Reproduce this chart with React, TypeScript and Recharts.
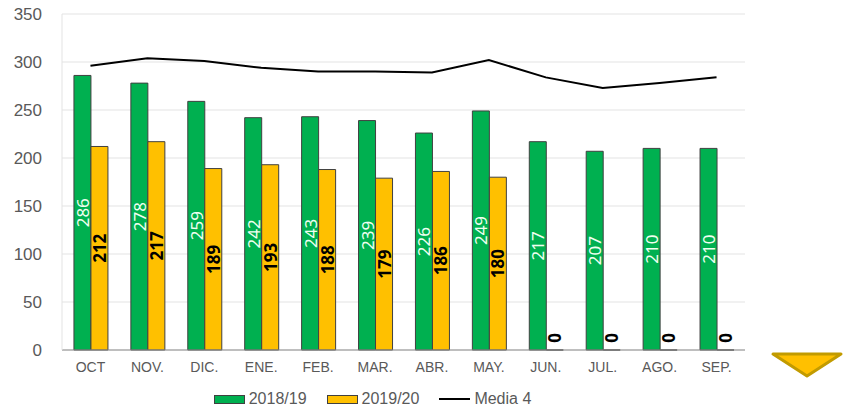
import {
  ComposedChart,
  Bar,
  Line,
  XAxis,
  YAxis,
  CartesianGrid,
  Legend,
  LabelList,
} from "recharts";

const MONTHS = ["OCT", "NOV.", "DIC.", "ENE.", "FEB.", "MAR.", "ABR.", "MAY.", "JUN.", "JUL.", "AGO.", "SEP."];
const S2018 = [286, 278, 259, 242, 243, 239, 226, 249, 217, 207, 210, 210];
const S2019 = [212, 217, 189, 193, 188, 179, 186, 180, 0, 0, 0, 0];
const MEDIA4 = [296, 304, 301, 294, 290, 290, 289, 302, 284, 273, 278, 284];
const Y_TICKS = [0, 50, 100, 150, 200, 250, 300, 350];

const GREEN = "#00B050";
const YELLOW = "#FFC000";
const TEXT = "#595959";

const data = MONTHS.map((m, i) => ({
  name: m,
  a: S2018[i],
  b: S2019[i],
  media: MEDIA4[i],
}));

function makeLabel(color: string, bold: boolean) {
  return (props: any) => {
    const { x, y, width, height, value } = props;
    const cx = Number(x) + Number(width) / 2;
    const isZero = Number(value) === 0;
    const cy = isZero ? Number(y) - 12 : Number(y) + Number(height) / 2;
    return (
      <text
        x={cx}
        y={cy}
        transform={`rotate(-90, ${cx}, ${cy})`}
        textAnchor="middle"
        dominantBaseline="central"
        fill={color}
        fontSize={17}
        fontWeight={bold ? 700 : 400}
        fontFamily="'Noto Sans', sans-serif"
      >
        {String(value)}
      </text>
    );
  };
}

function LegendContent() {
  const items = [
    { label: "2018/19", kind: "rect", color: GREEN },
    { label: "2019/20", kind: "rect", color: YELLOW },
    { label: "Media 4", kind: "line", color: "#000" },
  ];
  return (
    <div style={{ display: "flex", justifyContent: "center", alignItems: "center", gap: 20, marginTop: 5 }}>
      {items.map((it) => (
        <div key={it.label} style={{ display: "flex", alignItems: "center", gap: 4 }}>
          {it.kind === "rect" ? (
            <div style={{ width: 29, height: 7, background: it.color, border: "1px solid #404040" }} />
          ) : (
            <div style={{ width: 31, height: 2, background: it.color }} />
          )}
          <span style={{ fontSize: 16, color: TEXT, fontFamily: "'Liberation Sans', Arial, sans-serif" }}>
            {it.label}
          </span>
        </div>
      ))}
    </div>
  );
}

export default function App() {
  return (
    <div style={{ position: "absolute", left: 0, top: 0, width: 845, height: 411, background: "#fff" }}>
      <ComposedChart
        width={845}
        height={411}
        data={data}
        margin={{ top: 14, right: 100, bottom: 0, left: 0 }}
        barCategoryGap="21%"
        barGap={0}
      >
        <CartesianGrid vertical={false} stroke="#E3E3E3" />
        <XAxis
          dataKey="name"
          height={35}
          tickLine={false}
          axisLine={{ stroke: "#8C8C8C" }}
          tickMargin={6}
          tick={{ fontSize: 14, fill: TEXT, fontFamily: "'Liberation Sans', Arial, sans-serif" }}
        />
        <YAxis
          width={62}
          domain={[0, 350]}
          ticks={Y_TICKS}
          tickLine={false}
          axisLine={{ stroke: "#E3E3E3" }}
          tick={{ fontSize: 17, fill: TEXT, fontFamily: "'Liberation Sans', Arial, sans-serif" }}
          tickMargin={14}
        />
        <YAxis
          yAxisId="r"
          orientation="right"
          width={0}
          domain={[0, 350]}
          tick={false}
          tickLine={false}
          axisLine={{ stroke: "#E3E3E3" }}
        />
        <Legend verticalAlign="bottom" height={26} content={<LegendContent />} />
        <Bar dataKey="a" name="2018/19" fill={GREEN} stroke="#404040" strokeWidth={1} isAnimationActive={false}>
          <LabelList dataKey="a" content={makeLabel("#F0FFF0", false)} />
        </Bar>
        <Bar
          dataKey="b"
          name="2019/20"
          fill={YELLOW}
          stroke="#404040"
          strokeWidth={1}
          minPointSize={0.01}
          isAnimationActive={false}
        >
          <LabelList dataKey="b" content={makeLabel("#000", true)} />
        </Bar>
        <Line
          dataKey="media"
          name="Media 4"
          type="linear"
          stroke="#000"
          strokeWidth={2}
          dot={false}
          isAnimationActive={false}
        />
      </ComposedChart>
      <svg width={845} height={411} style={{ position: "absolute", left: 0, top: 0, pointerEvents: "none" }}>
        <polygon points="773,354 841,354 807,376" fill={YELLOW} stroke="#C29B00" strokeWidth={3} strokeLinejoin="round" />
      </svg>
    </div>
  );
}
